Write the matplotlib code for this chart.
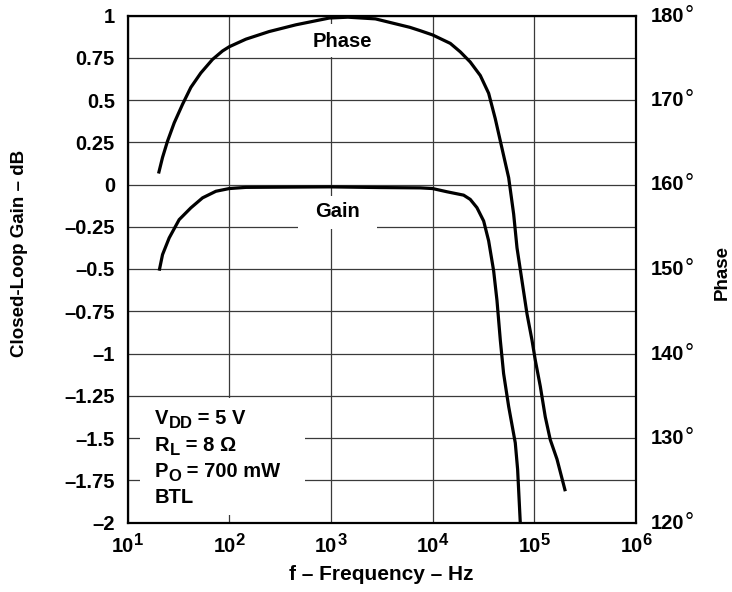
import matplotlib
matplotlib.use("Agg")
import matplotlib.pyplot as plt
from matplotlib.patches import Rectangle
from matplotlib.ticker import FixedLocator, FixedFormatter, NullLocator, NullFormatter

plt.rcParams['font.family'] = ['Liberation Sans', 'DejaVu Sans']
plt.rcParams['font.weight'] = 'bold'

# ---- data ----
gain_freq = [20.5, 22.1, 25.7, 32.2, 42, 54.7, 74, 100, 146, 964, 3000, 7570,
             10000, 13840, 20180, 23440, 27290, 31770, 35560, 39810, 42950,
             46340, 49890, 55980, 65010, 68550, 72780]
gain_db = [-0.51, -0.415, -0.316, -0.208, -0.138, -0.079, -0.040, -0.024,
           -0.017, -0.014, -0.018, -0.020, -0.024, -0.043, -0.063, -0.088,
           -0.137, -0.216, -0.333, -0.51, -0.686, -0.922, -1.118, -1.314,
           -1.529, -1.686, -2.0]

phase_freq = [20.2, 22.1, 24.7, 28.8, 34.8, 42, 52.6, 68.5, 85.9, 100, 146,
              247, 453, 964, 1470, 2740, 5980, 7570, 10000, 14930, 18710,
              23440, 29440, 35560, 41300, 48080, 55980, 62660, 67610, 75680,
              84720, 94840, 102300, 114600, 128200, 143500, 167100, 201800]
phase_deg = [161.3, 163.2, 165.1, 167.3, 169.5, 171.5, 173.2, 174.8, 175.8,
             176.3, 177.2, 178.1, 178.9, 179.7, 179.8, 179.6, 178.6, 178.2,
             177.7, 176.7, 175.7, 174.5, 172.9, 170.8, 167.8, 164.3, 160.8,
             156.5, 152.5, 148.6, 144.7, 141.6, 139.2, 136.1, 132.5, 129.8,
             127.5, 123.7]

x_ticks = [1e1, 1e2, 1e3, 1e4, 1e5, 1e6]
x_exps = ['1', '2', '3', '4', '5', '6']
y_ticks = [1, 0.75, 0.5, 0.25, 0, -0.25, -0.5, -0.75, -1, -1.25, -1.5, -1.75, -2]
y_labels = ['1', '0.75', '0.5', '0.25', '0', '–0.25', '–0.5', '–0.75', '–1',
            '–1.25', '–1.5', '–1.75', '–2']
p_ticks = [120, 130, 140, 150, 160, 170, 180]
p_labels = ['120', '130', '140', '150', '160', '170', '180']
conditions = [('V', 'DD', ' = 5 V'), ('R', 'L', ' = 8 Ω'),
              ('P', 'O', ' = 700 mW'), ('BTL', '', '')]

W, H = 732, 592
fig = plt.figure(figsize=(W / 100, H / 100), dpi=100)
renderer = fig.canvas.get_renderer()


def ptext(x, y, s, **kw):
    """text at pixel coords measured from the top-left corner"""
    return fig.text(x / W, 1 - y / H, s, **kw)


def width_of(t):
    return t.get_window_extent(renderer=renderer).width


L, R, T, B = 127.5, 636, 15.5, 522.5
ax = fig.add_axes([L / W, 1 - B / H, (R - L) / W, (B - T) / H])
ax.set_xscale('log')
ax.set_xlim(1e1, 1e6)
ax.set_ylim(-2, 1)
ax.xaxis.set_major_locator(FixedLocator(x_ticks))
ax.xaxis.set_major_formatter(NullFormatter())
ax.xaxis.set_minor_locator(NullLocator())
ax.xaxis.set_minor_formatter(NullFormatter())
ax.yaxis.set_major_locator(FixedLocator(y_ticks))
ax.yaxis.set_major_formatter(FixedFormatter(y_labels))
ax.tick_params(axis='both', length=0, labelsize=14.5)
ax.tick_params(axis='y', pad=9)
ax.grid(True, which='major', color='#3a3a3a', linewidth=0.9, zorder=0)
ax.set_axisbelow(True)
for s in ax.spines.values():
    s.set_linewidth(1.6)
    s.set_color('black')
    s.set_zorder(5)

# white label boxes (cover the grid)
ax.add_patch(Rectangle((10**2.66, 0.752), 10**3.575 - 10**2.66, 0.2,
                       facecolor='white', edgecolor='none', zorder=1))
ax.add_patch(Rectangle((10**2.673, -0.265), 10**3.455 - 10**2.673, 0.195,
                       facecolor='white', edgecolor='none', zorder=1))
ax.add_patch(Rectangle((10**1.12, -1.955), 10**2.745 - 10**1.12, 0.693,
                       facecolor='white', edgecolor='none', zorder=1))

ax.text(10**3.115, 0.846, 'Phase', fontsize=14.5, fontweight='bold',
        ha='center', va='center', zorder=2)
ax.text(10**3.064, -0.158, 'Gain', fontsize=14.5, fontweight='bold',
        ha='center', va='center', zorder=2)

ax.plot(gain_freq, gain_db, color='black', linewidth=2.3,
        solid_joinstyle='round', solid_capstyle='butt', zorder=3)

ax2 = ax.twinx()
ax2.set_ylim(120, 180)
ax2.yaxis.set_major_locator(FixedLocator(p_ticks))
ax2.yaxis.set_major_formatter(NullFormatter())
ax2.tick_params(axis='y', length=0)
for s in ax2.spines.values():
    s.set_visible(False)
ax2.plot(phase_freq, phase_deg, color='black', linewidth=2.3,
         solid_joinstyle='round', solid_capstyle='butt', zorder=3)

# conditions block (with large subscripts)
cond_base = [424, 451, 477, 503]
for (main, sub, rest), yb in zip(conditions, cond_base):
    t = ptext(155, yb, main, fontsize=14.5, fontweight='bold', va='baseline')
    x = 155 + width_of(t)
    if sub:
        t2 = ptext(x, yb + 4, sub, fontsize=12, fontweight='bold', va='baseline')
        x += width_of(t2)
        ptext(x, yb, rest, fontsize=14.5, fontweight='bold', va='baseline')

# x tick labels: 10 with superscript exponent
for tick, e in zip(x_ticks, x_exps):
    xp, _ = ax.transData.transform((tick, 1))
    tb = fig.text(0, 0, '10', fontsize=14.5, fontweight='bold')
    te = fig.text(0, 0, e, fontsize=12, fontweight='bold')
    wb, we = width_of(tb), width_of(te)
    tb.remove(); te.remove()
    x0 = xp - (wb + we) / 2
    ptext(x0, 551.5, '10', fontsize=14.5, fontweight='bold', va='baseline')
    ptext(x0 + wb, 545, e, fontsize=12, fontweight='bold', va='baseline')

# right axis labels with thin degree ring
for tick, lab in zip(p_ticks, p_labels):
    _, yd = ax2.transData.transform((1e3, tick))
    yp = H - yd
    t = ptext(651, yp + 6, lab, fontsize=14.5, fontweight='bold', va='baseline')
    ptext(651 + width_of(t), yp + 6, '°', fontsize=16.5, fontweight='normal',
          va='baseline')

fig.text((L + R) / 2 / W, 1 - 580 / H, 'f – Frequency – Hz', fontsize=15,
         fontweight='bold', ha='center', va='baseline')
fig.text(20 / W, 1 - 253 / H, 'Closed-Loop Gain – dB', fontsize=13.5,
         fontweight='bold', ha='center', va='center', rotation=90)
fig.text(722 / W, 1 - 272 / H, 'Phase', fontsize=13.5,
         fontweight='bold', ha='center', va='center', rotation=90)

fig.savefig('out.png', dpi=100)
